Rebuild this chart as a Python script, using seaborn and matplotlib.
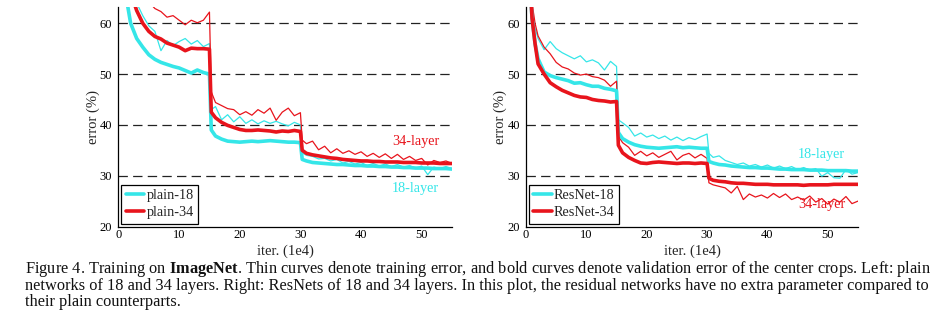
import matplotlib
matplotlib.use("Agg")
import matplotlib.pyplot as plt
from matplotlib.lines import Line2D
import seaborn as sns
import pandas as pd

# iteration grid (x 1e4), with extra samples at the learning-rate drops
ITERS = ([0, 0.5, 1, 1.5, 2] + list(range(3, 16)) + [15.3] + list(range(16, 31))
         + [30.3] + list(range(31, 56)))

# plain networks
plain18_val = [90, 80, 70, 63.5, 60, 57.0, 55.3, 53.8, 52.9, 52.3, 51.9, 51.5, 51.2, 50.7, 50.2, 50.8, 50.3, 50.0,
               39.0, 37.8, 37.2, 36.8, 36.7, 36.6, 36.7, 36.8, 36.7, 36.8, 36.9, 36.8, 36.7, 36.6, 36.6, 36.5,
               33.2, 32.9, 32.6, 32.5, 32.4, 32.3, 32.2, 32.2, 32.1, 32.0, 32.0, 31.9, 31.9, 31.8, 31.8, 31.7,
               31.7, 31.6, 31.6, 31.5, 31.5, 31.5, 31.4, 31.4, 31.4, 31.3]
plain18_train = [95, 90, 80, 72, 68, 64, 61.5, 59.5, 58.4, 54.6, 56.6, 55.6, 56.4, 57.0, 55.9, 56.6, 55.4, 56.0,
                 43.0, 43.6, 41.0, 42.0, 40.6, 41.6, 40.3, 41.0, 40.2, 40.8, 40.3, 40.7, 40.2, 39.8, 40.5, 40.0,
                 34.5, 34.0, 33.8, 33.3, 33.4, 32.9, 33.2, 32.5, 32.8, 32.3, 32.6, 32.0, 32.4, 31.9, 32.3, 31.8,
                 32.2, 31.7, 32.0, 31.5, 31.9, 30.2, 31.7, 31.4, 31.8, 31.4]
plain34_val = [95, 90, 80, 72, 66, 62.5, 60.0, 58.4, 57.4, 56.9, 56.1, 55.7, 55.3, 54.6, 55.1, 55.0, 55.0, 54.9,
               42.5, 41.4, 40.5, 39.9, 39.5, 39.1, 38.9, 38.9, 39.0, 38.9, 38.8, 38.6, 38.8, 38.7, 38.9, 38.7,
               35.0, 34.4, 34.1, 33.9, 33.7, 33.5, 33.4, 33.2, 33.1, 33.0, 32.9, 32.9, 32.8, 32.8, 32.7, 32.7,
               32.7, 32.6, 32.6, 32.6, 32.5, 32.5, 32.5, 32.4, 32.4, 32.4]
plain34_train = [98, 95, 90, 85, 78, 72, 67, 64.2, 62.9, 62.3, 61.2, 61.5, 60.6, 59.7, 60.6, 60.1, 60.6, 62.2,
                 46.5, 44.4, 43.8, 43.2, 43.0, 42.0, 42.6, 41.9, 43.0, 42.3, 43.3, 40.9, 42.5, 43.3, 41.8, 42.4,
                 37.0, 36.3, 36.8, 35.1, 35.8, 34.5, 35.3, 34.4, 34.9, 34.2, 34.7, 33.8, 34.4, 33.6, 34.3, 33.4,
                 34.2, 33.2, 33.8, 33.0, 33.4, 32.1, 33.0, 32.6, 32.9, 32.4]

# residual networks
resnet18_val = [85, 70, 61, 56, 53, 50.4, 49.7, 49.3, 49.0, 48.7, 48.2, 48.3, 47.9, 47.6, 47.6, 47.2, 47.0, 46.7,
                38.5, 37.3, 36.6, 36.1, 35.8, 35.6, 35.5, 35.4, 35.5, 35.6, 35.7, 35.5, 35.6, 35.5, 35.4, 35.4,
                32.8, 32.5, 32.2, 32.1, 31.9, 31.8, 31.7, 31.6, 31.6, 31.5, 31.5, 31.4, 31.3, 31.3, 31.2, 31.2,
                31.2, 31.1, 31.1, 31.1, 31.0, 31.0, 31.0, 31.0, 30.9, 30.9]
resnet18_train = [85, 72, 63, 59, 57, 54.8, 56.4, 55.0, 54.2, 53.6, 53.0, 53.6, 52.4, 52.8, 52.2, 50.8, 52.5, 51.5,
                  41.0, 40.4, 39.5, 37.8, 38.4, 37.6, 38.0, 37.3, 37.8, 37.0, 37.6, 36.9, 37.5, 37.1, 37.7, 38.2,
                  34.4, 33.6, 33.9, 33.0, 32.6, 32.2, 32.5, 31.9, 32.2, 31.7, 32.1, 31.5, 31.9, 31.4, 31.8, 31.2,
                  31.6, 31.1, 31.4, 29.9, 30.6, 29.6, 29.5, 31.2, 30.3, 30.6]
resnet34_val = [90, 72, 61, 56, 52, 50.0, 48.3, 47.5, 46.8, 46.3, 45.8, 45.5, 45.4, 45.0, 44.8, 44.7, 44.5, 44.6,
                36.0, 34.5, 33.6, 33.0, 32.5, 32.4, 32.6, 32.7, 32.6, 32.5, 32.4, 32.5, 32.5, 32.4, 32.5, 32.4,
                29.5, 29.1, 28.9, 28.8, 28.6, 28.5, 28.5, 28.4, 28.3, 28.3, 28.3, 28.2, 28.2, 28.2, 28.2, 28.2,
                28.1, 28.2, 28.2, 28.2, 28.2, 28.3, 28.3, 28.3, 28.3, 28.3]
resnet34_train = [90, 75, 64, 60, 57.5, 55.3, 54.0, 52.3, 51.4, 51.0, 50.2, 49.8, 50.0, 49.5, 49.3, 48.8, 47.6, 48.6,
                  37.8, 36.5, 35.6, 34.0, 34.8, 33.9, 34.5, 33.6, 34.2, 34.8, 33.1, 34.0, 34.4, 33.5, 34.2, 33.4,
                  28.6, 28.2, 27.9, 27.6, 26.6, 27.9, 25.3, 26.4, 25.8, 26.2, 25.6, 26.5, 25.7, 26.4, 25.3, 25.8,
                  25.2, 26.0, 24.8, 25.5, 24.4, 25.4, 24.8, 25.9, 24.5, 25.0]

LEGEND_LEFT = ["plain-18", "plain-34"]
LEGEND_RIGHT = ["ResNet-18", "ResNet-34"]
Y_TICKS = [20, 30, 40, 50, 60]
X_TICKS = [0, 10, 20, 30, 40, 50]

CAPTION = [
    r"Figure 4. Training on $\mathbf{ImageNet}$. Thin curves denote training error, and bold curves denote "
    r"validation error of the center crops. Left: plain",
    "networks of 18 and 34 layers. Right: ResNets of 18 and 34 layers. In this plot, the residual networks "
    "have no extra parameter compared to",
    "their plain counterparts.",
]

CYAN = "#35e6e8"
RED = "#e8141c"

sns.set_style("white")
plt.rcParams["font.family"] = ["Liberation Serif", "DejaVu Serif"]
plt.rcParams["mathtext.fontset"] = "custom"
plt.rcParams["mathtext.rm"] = "Liberation Serif"
plt.rcParams["mathtext.bf"] = "Liberation Serif:bold"

fig = plt.figure(figsize=(9.32, 3.21), dpi=100)
W, H = 932.0, 321.0
ax_l = fig.add_axes([118.5 / W, (H - 226.5) / H, 333.5 / W, 219.5 / H])
ax_r = fig.add_axes([526 / W, (H - 226.5) / H, 332 / W, 219.5 / H])


def panel(ax, s18_train, s18_val, s34_train, s34_val, names, y18, y34):
    df = pd.DataFrame({"iter": ITERS, "a": s18_train, "b": s18_val,
                       "c": s34_train, "d": s34_val})
    for y, col, lw in [("a", CYAN, 0.9), ("c", RED, 0.9), ("b", CYAN, 2.6), ("d", RED, 2.6)]:
        sns.lineplot(data=df, x="iter", y=y, ax=ax, color=col, linewidth=lw,
                     estimator=None, sort=False, legend=False, zorder=3)
    ax.set_xlim(0, 55)
    ax.set_ylim(20, 63.2)
    ax.set_xticks(X_TICKS)
    ax.set_yticks(Y_TICKS)
    for g in Y_TICKS[1:]:
        ax.axhline(g, color="#222222", linewidth=0.9, linestyle=(0, (7.5, 4.2)), zorder=2)
    for side in ["top", "right"]:
        ax.spines[side].set_visible(False)
    for side in ["left", "bottom"]:
        ax.spines[side].set_color("black")
        ax.spines[side].set_linewidth(0.9)
    ax.tick_params(axis="y", direction="out", length=3, width=0.8, pad=1.5,
                   labelsize=9, colors="black")
    ax.tick_params(axis="x", direction="in", length=2, width=0.7, pad=1.5,
                   labelsize=9, colors="black")
    ax.set_xlabel("iter. (1e4)", fontsize=10.5, labelpad=3)
    ax.set_ylabel("error (%)", fontsize=10.5, labelpad=0)
    ax.text(49, y34, "34-layer", color=RED, fontsize=10.3, ha="center", va="center")
    ax.text(49, y18, "18-layer", color=CYAN, fontsize=10.3, ha="center", va="center")
    handles = [Line2D([], [], color=CYAN, linewidth=2.6),
               Line2D([], [], color=RED, linewidth=2.6)]
    leg = ax.legend(handles, names, loc="lower left", fontsize=10.3, frameon=True,
                    fancybox=False, edgecolor="black", framealpha=1,
                    borderaxespad=0.2, handlelength=1.3, handletextpad=0.15,
                    borderpad=0.3, labelspacing=0.3)
    leg.get_frame().set_linewidth(0.9)
    leg.set_zorder(5)


panel(ax_l, plain18_train, plain18_val, plain34_train, plain34_val,
      LEGEND_LEFT, 27.4, 36.7)
panel(ax_r, resnet18_train, resnet18_val, resnet34_train, resnet34_val,
      LEGEND_RIGHT, 34.1, 24.3)

# caption, sized so the first line spans the full text width
caps = []
for i, line in enumerate(CAPTION):
    caps.append(fig.text(25 / W, 1 - (273 + 16.6 * i) / H, line, fontsize=11,
                         ha="left", va="baseline", color="#111111"))
fig.canvas.draw()
r = fig.canvas.get_renderer()
w0 = caps[0].get_window_extent(r).width
fs = 11 * (902.0 / w0)
for c in caps:
    c.set_fontsize(fs)

fig.savefig("out.png", dpi=100)
